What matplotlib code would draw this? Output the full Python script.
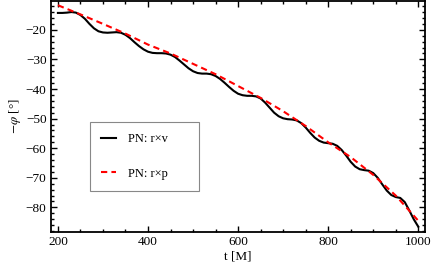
import matplotlib
matplotlib.use('Agg')
import matplotlib.pyplot as plt
from matplotlib.ticker import MultipleLocator

# values (t in M, -phi in degrees)
t_rv = [200, 210, 220, 230, 240, 250, 260, 270, 280, 290,
        300, 310, 320, 330, 340, 350, 360, 370, 380, 390,
        400, 410, 420, 430, 440, 450, 460, 470, 480, 490,
        500, 510, 520, 530, 540, 550, 560, 570, 580, 590,
        600, 610, 620, 630, 640, 650, 660, 670, 680, 690,
        700, 710, 720, 730, 740, 750, 760, 770, 780, 790,
        800, 810, 820, 830, 840, 850, 860, 870, 880, 890,
        900, 910, 920, 930, 940, 950, 960, 970, 980, 990, 1000]
phi_rv = [-14.3, -14.3, -14.2, -14.0, -14.2, -15.0, -16.3, -18.0, -19.5, -20.5,
          -20.9, -21.0, -20.9, -20.8, -21.0, -21.7, -22.8, -24.2, -25.5, -26.6,
          -27.4, -27.8, -27.9, -27.9, -28.0, -28.4, -29.2, -30.4, -31.7, -33.0,
          -34.0, -34.6, -34.8, -34.8, -35.0, -35.6, -36.6, -37.9, -39.3, -40.6,
          -41.6, -42.1, -42.3, -42.3, -42.5, -43.2, -44.6, -46.3, -48.0, -49.2,
          -49.9, -50.2, -50.3, -50.6, -51.5, -53.0, -54.8, -56.4, -57.5, -58.1,
          -58.3, -58.5, -59.2, -60.6, -62.5, -64.6, -66.2, -67.1, -67.4, -67.6,
          -68.4, -70.0, -72.2, -74.3, -75.8, -76.5, -76.8, -78.2, -81.0, -84.0, -86.5]

t_rp = [200, 250, 300, 350, 400, 450, 500, 550, 600,
        650, 700, 750, 800, 850, 900, 950, 1000]
phi_rp = [-11.7, -14.8, -18.0, -21.3, -25.0, -28.0, -31.5, -35.0, -39.0,
          -43.0, -47.5, -52.5, -58.0, -63.0, -69.0, -76.0, -84.5]

labels = ['PN: r\u00d7v', 'PN: r\u00d7p']

plt.rcParams['font.family'] = ['Liberation Serif', 'DejaVu Serif']
plt.rcParams['mathtext.fontset'] = 'stix'
plt.rcParams['font.size'] = 9.5

fig = plt.figure(figsize=(4.36, 2.71), dpi=100)
ax = fig.add_axes([0.1163, 0.144, 0.8585, 0.852])

ax.plot(t_rv, phi_rv, color='black', lw=1.5, label=labels[0])
ax.plot(t_rp, phi_rp, color='#ff0000', lw=1.5, ls=(0, (3, 2)), label=labels[1])

ax.set_xlim(184, 1015)
ax.set_ylim(-88.3, -10.3)
ax.xaxis.set_major_locator(MultipleLocator(200))
ax.xaxis.set_minor_locator(MultipleLocator(50))
ax.yaxis.set_major_locator(MultipleLocator(10))
ax.yaxis.set_minor_locator(MultipleLocator(2))
ax.tick_params(which='both', direction='in', top=True, right=True, width=1.0)
ax.tick_params(which='major', length=4, pad=3)
ax.tick_params(which='minor', length=2)
for s in ax.spines.values():
    s.set_linewidth(1.3)

ax.set_xlabel('t [M]', labelpad=2)
ax.set_ylabel(r'$-\varphi$ [°]', labelpad=2)

leg = ax.legend(loc='upper left', bbox_to_anchor=(0.105, 0.195, 0.291, 0.281),
                mode='expand', fancybox=False, framealpha=1, edgecolor='#888888',
                borderpad=0.9, labelspacing=1.8, handlelength=1.2,
                handletextpad=0.95, borderaxespad=0, fontsize=9)
leg.get_frame().set_linewidth(0.8)

fig.savefig('out.png', dpi=100)
